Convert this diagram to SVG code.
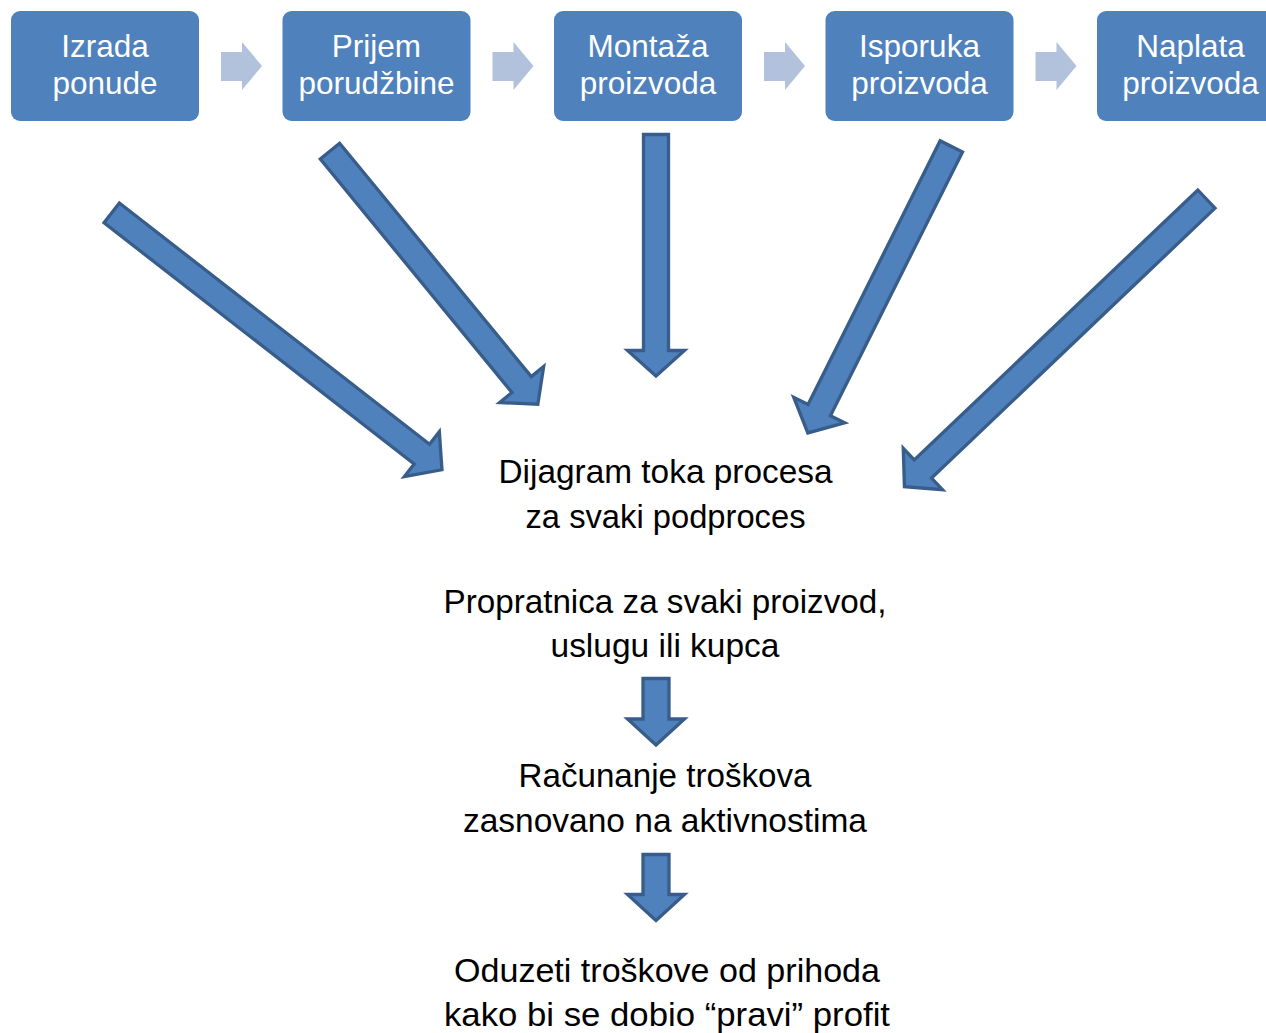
<svg xmlns="http://www.w3.org/2000/svg" width="1266" height="1033" viewBox="0 0 1266 1033">
  <style>
    .box { fill: #4F81BD; }
    .boxtxt { font-family: "Liberation Sans", Arial, sans-serif; font-size: 31.5px; fill: #FFFFFF; text-anchor: middle; }
    .txt { font-family: "Liberation Sans", Arial, sans-serif; font-size: 33px; fill: #000000; text-anchor: middle; }
    .step { fill: #B2C2DC; }
    .big { fill: #4F81BD; stroke: #385D8A; stroke-width: 3.3; stroke-linejoin: miter; }
  </style>
  <defs>
    <path id="step" d="M0,52 L21,52 L21,42 L41,66 L21,90 L21,81 L0,81 Z"/>
  </defs>
  <rect x="0" y="0" width="1266" height="1033" fill="#FFFFFF"/>

  <g id="node-izrada">
    <rect class="box" x="11" y="11" width="188" height="110" rx="9"/>
    <text class="boxtxt" x="105" y="57">Izrada</text>
    <text class="boxtxt" x="105" y="94">ponude</text>
  </g>
  <g id="node-prijem">
    <rect class="box" x="282.5" y="11" width="188" height="110" rx="9"/>
    <text class="boxtxt" x="376.5" y="57">Prijem</text>
    <text class="boxtxt" x="376.5" y="94">porudžbine</text>
  </g>
  <g id="node-montaza">
    <rect class="box" x="554" y="11" width="188" height="110" rx="9"/>
    <text class="boxtxt" x="648" y="57">Montaža</text>
    <text class="boxtxt" x="648" y="94">proizvoda</text>
  </g>
  <g id="node-isporuka">
    <rect class="box" x="825.5" y="11" width="188" height="110" rx="9"/>
    <text class="boxtxt" x="919.5" y="57">Isporuka</text>
    <text class="boxtxt" x="919.5" y="94">proizvoda</text>
  </g>
  <g id="node-naplata">
    <rect class="box" x="1097" y="11" width="188" height="110" rx="9"/>
    <text class="boxtxt" x="1190.5" y="57">Naplata</text>
    <text class="boxtxt" x="1190.5" y="94">proizvoda</text>
  </g>

  <g id="node-dijagram">
    <text class="txt" x="665.5" y="483" textLength="334" lengthAdjust="spacingAndGlyphs">Dijagram toka procesa</text>
    <text class="txt" x="665.5" y="528" textLength="280" lengthAdjust="spacingAndGlyphs">za svaki podproces</text>
  </g>
  <g id="node-propratnica">
    <text class="txt" x="665" y="613" textLength="443" lengthAdjust="spacingAndGlyphs">Propratnica za svaki proizvod,</text>
    <text class="txt" x="665" y="657" textLength="229" lengthAdjust="spacingAndGlyphs">uslugu ili kupca</text>
  </g>
  <g id="node-racunanje">
    <text class="txt" x="665" y="787" textLength="293" lengthAdjust="spacingAndGlyphs">Računanje troškova</text>
    <text class="txt" x="665" y="832" textLength="404" lengthAdjust="spacingAndGlyphs">zasnovano na aktivnostima</text>
  </g>
  <g id="node-oduzeti">
    <text class="txt" x="667" y="982" textLength="426" lengthAdjust="spacingAndGlyphs">Oduzeti troškove od prihoda</text>
    <text class="txt" x="667" y="1026" textLength="446" lengthAdjust="spacingAndGlyphs">kako bi se dobio “pravi” profit</text>
  </g>

  <g id="connectors">
    <use href="#step" class="step" x="221" y="0"/>
    <use href="#step" class="step" x="492.5" y="0"/>
    <use href="#step" class="step" x="764" y="0"/>
    <use href="#step" class="step" x="1035.5" y="0"/>

    <path class="big" transform="translate(110.5,212) rotate(37.87)" d="M1.5,-12.5 L394.4,-12.5 L394.4,-28.5 L419.9,0 L394.4,28.5 L394.4,12.5 L1.5,12.5 Z"/>
    <path class="big" transform="translate(329,150) rotate(50.6)" d="M1.5,-12.5 L303.5,-12.5 L303.5,-28.5 L329,0 L303.5,28.5 L303.5,12.5 L1.5,12.5 Z"/>
    <path class="big" transform="translate(656,133) rotate(90)" d="M1.5,-12.5 L217.5,-12.5 L217.5,-28.5 L243,0 L217.5,28.5 L217.5,12.5 L1.5,12.5 Z"/>
    <path class="big" transform="translate(952,145) rotate(116.6)" d="M1.5,-12.5 L296.5,-12.5 L296.5,-28.5 L322,0 L296.5,28.5 L296.5,12.5 L1.5,12.5 Z"/>
    <path class="big" transform="translate(1207.5,198) rotate(136.4)" d="M1.5,-12.5 L393,-12.5 L393,-28.5 L418.5,0 L393,28.5 L393,12.5 L1.5,12.5 Z"/>

    <path class="big" d="M643,678.5 L669,678.5 L669,719 L684.5,719 L656,745 L627.5,719 L643,719 Z"/>
    <path class="big" d="M643,854.5 L669,854.5 L669,894.5 L684.5,894.5 L656,920.5 L627.5,894.5 L643,894.5 Z"/>
  </g>
</svg>
